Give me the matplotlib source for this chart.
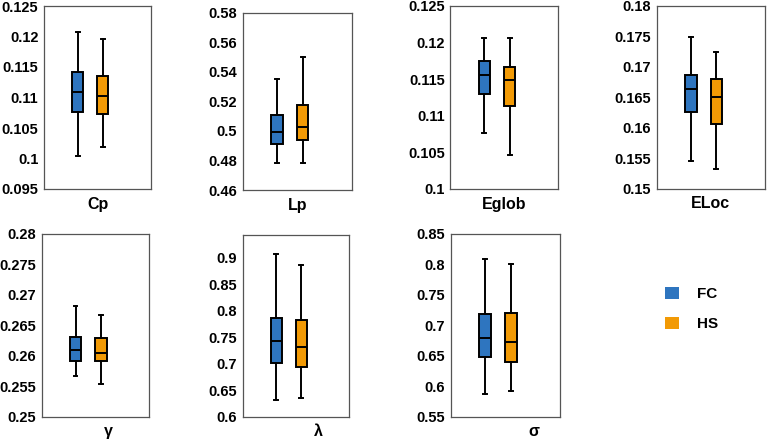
import matplotlib

matplotlib.use("Agg")
import matplotlib.pyplot as plt
from matplotlib.patches import Patch

plt.rcParams["font.family"] = ["Liberation Sans", "DejaVu Sans"]
plt.rcParams["font.weight"] = "bold"

# box statistics: (whislo, q1, med, q3, whishi)
metrics = ["Cp", "Lp", "Eglob", "ELoc", "γ", "λ", "σ"]
fc_stats = [
    (0.1004, 0.1076, 0.1109, 0.1141, 0.1207),
    (0.4781, 0.4912, 0.4991, 0.5108, 0.5353),
    (0.1077, 0.1129, 0.1155, 0.1174, 0.1206),
    (0.1546, 0.1626, 0.1664, 0.1687, 0.1748),
    (0.2567, 0.2591, 0.2609, 0.2630, 0.2682),
    (0.631, 0.701, 0.744, 0.786, 0.908),
    (0.5877, 0.6474, 0.6785, 0.7179, 0.8085),
]
hs_stats = [
    (0.1019, 0.1073, 0.1102, 0.1136, 0.1196),
    (0.4785, 0.4939, 0.5027, 0.5175, 0.5500),
    (0.1047, 0.1113, 0.1148, 0.1167, 0.1206),
    (0.1532, 0.1606, 0.1651, 0.1680, 0.1724),
    (0.2554, 0.2592, 0.2604, 0.2629, 0.2667),
    (0.635, 0.694, 0.731, 0.783, 0.8875),
    (0.592, 0.6402, 0.672, 0.7205, 0.8008),
]
ylims = [(0.095, 0.125), (0.46, 0.58), (0.1, 0.125), (0.15, 0.18),
         (0.25, 0.28), (0.6, 0.944), (0.55, 0.85)]
yticks = [
    [0.095, 0.1, 0.105, 0.11, 0.115, 0.12, 0.125],
    [0.46, 0.48, 0.5, 0.52, 0.54, 0.56, 0.58],
    [0.1, 0.105, 0.11, 0.115, 0.12, 0.125],
    [0.15, 0.155, 0.16, 0.165, 0.17, 0.175, 0.18],
    [0.25, 0.255, 0.26, 0.265, 0.27, 0.275, 0.28],
    [0.6, 0.65, 0.7, 0.75, 0.8, 0.85, 0.9],
    [0.55, 0.6, 0.65, 0.7, 0.75, 0.8, 0.85],
]
groups = ["FC", "HS"]
colors = ["#2E75BF", "#F29A05"]

W, H = 767, 443
# axes boxes in pixels: left, top, width, height
boxes_px = [
    (44, 6, 107, 183), (242.7, 12.7, 109, 177.3), (450.3, 5.7, 108, 183.3),
    (656.7, 5.7, 108.3, 183.3), (41.7, 233.7, 107.6, 183), (242.7, 234.7, 106.3, 182),
    (450.7, 233.7, 109.3, 183),
]
label_x = [0.5, 0.5, 0.5, 0.5, 0.62, 0.71, 0.76]

fig = plt.figure(figsize=(W / 100, H / 100), dpi=100)

for i, name in enumerate(metrics):
    l, t, w, h = boxes_px[i]
    ax = fig.add_axes([l / W, 1 - (t + h) / H, w / W, h / H])
    stats = []
    for s in (fc_stats[i], hs_stats[i]):
        lo, q1, med, q3, hi = s
        stats.append(dict(whislo=lo, q1=q1, med=med, q3=q3, whishi=hi, fliers=[]))
    bp = ax.bxp(stats, positions=[0.315, 0.55], widths=0.105, capwidths=0.035,
                patch_artist=True, showfliers=False,
                boxprops=dict(linewidth=1.4, edgecolor="black"),
                medianprops=dict(color="black", linewidth=1.4),
                whiskerprops=dict(color="black", linewidth=1.4),
                capprops=dict(color="black", linewidth=1.4))
    for patch, c in zip(bp["boxes"], colors):
        patch.set_facecolor(c)
    ax.set_xlim(0, 1)
    ax.set_ylim(*ylims[i])
    ax.set_yticks(yticks[i])
    ax.set_yticklabels([f"{v:g}" for v in yticks[i]])
    ax.set_xticks([])
    ax.tick_params(axis="y", length=0, labelsize=10.5, pad=4)
    for lab in ax.get_yticklabels():
        lab.set_fontweight("bold")
    for sp in ax.spines.values():
        sp.set_color("#555555")
        sp.set_linewidth(0.9)
    ax.text(label_x[i], -15 / h, name, transform=ax.transAxes, ha="center",
            va="center", fontsize=11.5, fontweight="bold")

handles = [Patch(facecolor=c, edgecolor="none", label=g) for g, c in zip(groups, colors)]
fig.legend(handles=handles, loc="center left", bbox_to_anchor=(651 / W, 1 - 309 / H),
           frameon=False, handlelength=0.9, handleheight=0.9, handletextpad=1.2,
           labelspacing=1.0, prop=dict(size=11, weight="bold"))

fig.savefig("out.png", dpi=100)
